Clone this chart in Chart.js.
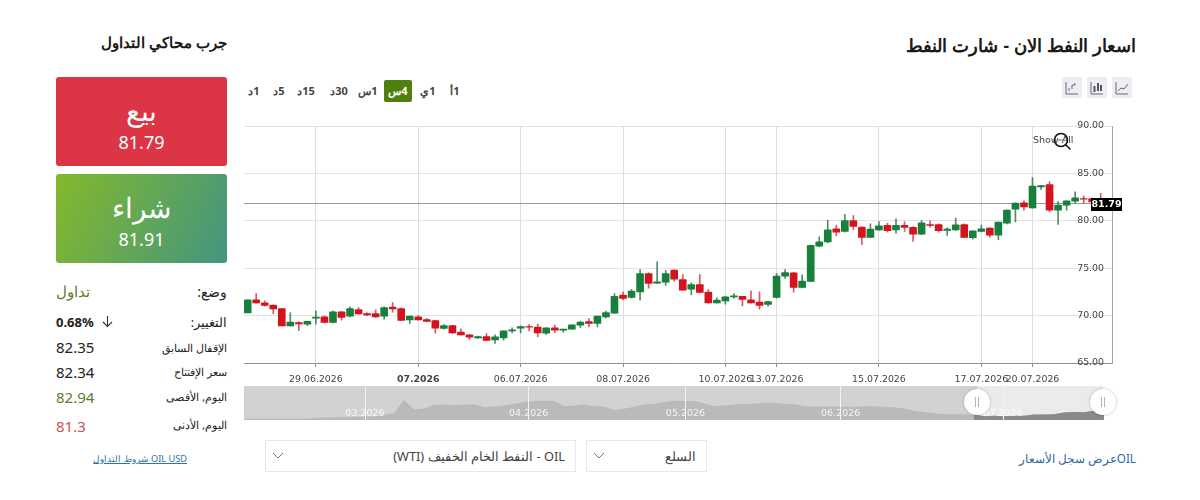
<!DOCTYPE html>
<html lang="ar">
<head>
<meta charset="utf-8">
<title>اسعار النفط الان</title>
<script src="https://cdn.jsdelivr.net/npm/chart.js@4"></script>
<style>
html,body{margin:0;padding:0;background:#fff;width:1200px;height:500px;overflow:hidden;font-family:"Noto Sans",sans-serif;color:#222}
.abs{position:absolute;white-space:nowrap}
.r{direction:rtl;text-align:right}
canvas{position:absolute}
.title{font:bold 17.900px "Liberation Sans",Arial,sans-serif;color:#1a1a1a}
.box{position:absolute;left:56px;width:171px;height:89px;border-radius:3px;color:#fff;text-align:center}
.box b{position:absolute;left:0;right:0;font-weight:400;font-size:28px;line-height:36px}
.box span{position:absolute;left:0;right:0;font-size:18px;line-height:24px}
.lbl{right:973px;font-size:10.500px;color:#222;direction:rtl}
.num{left:56px;font-size:15px;color:#222}
.period{font:bold 11px "Noto Sans",sans-serif;color:#444;direction:rtl;text-align:center;line-height:22px;top:80px;height:22px}
.tool{position:absolute;top:77px;width:20px;height:21px;background:#eceef2}
.select{position:absolute;top:440px;height:30px;border:1px solid #e8e8e8;box-sizing:content-box}
.select span{position:absolute;right:10px;top:0;line-height:30px;font-size:12.800px;color:#444;direction:rtl;white-space:nowrap}
.select svg{position:absolute;left:6px;top:11px}
</style>
</head>
<body>

<div class="abs title r" style="right:64px;top:35px">اسعار النفط الان - شارت النفط</div>
<div class="abs title r" style="right:973px;top:34px;font-size:15px">جرب محاكي التداول</div>

<div class="box" style="top:77px;background:#dc3545">
  <b style="top:15px">بيع</b><span style="top:53px">81.79</span>
</div>
<div class="box" style="top:174px;background:linear-gradient(115deg,#84b92b,#439580)">
  <b style="top:15px">شراء</b><span style="top:53px">81.91</span>
</div>

<div class="abs lbl" style="top:282px;font-size:14px">وضع:</div>
<div class="abs" style="left:56px;top:281px;font-size:15px;color:#5f7d2d;direction:rtl">تداول</div>
<div class="abs lbl" style="top:314px;font-size:12.500px">التغيير:</div>
<div class="abs" style="left:56px;top:313px;font-size:13px;font-weight:bold;color:#222">0.68%</div>
<svg class="abs" style="left:101px;top:315px" width="13" height="13" viewBox="0 0 13 13"><path d="M6.5 1v10M2 7l4.500 4.500L11 7" fill="none" stroke="#333" stroke-width="1.100"/></svg>
<div class="abs lbl" style="top:341px">الإقفال السابق</div>
<div class="abs num" style="top:337px">82.35</div>
<div class="abs lbl" style="top:365px">سعر الإفتتاح</div>
<div class="abs num" style="top:362px">82.34</div>
<div class="abs lbl" style="top:390px">اليوم, الأقصى</div>
<div class="abs num" style="top:387px;color:#5f7d2d">82.94</div>
<div class="abs lbl" style="top:418px">اليوم, الأدنى</div>
<div class="abs num" style="top:416px;color:#c9535c">81.3</div>
<div class="abs r" style="right:1013px;top:452px;font-size:9.200px;color:#2f72ab;text-decoration:underline">OIL USD شروط التداول</div>

<div class="abs period" style="left:246px;width:16px">1د</div>
<div class="abs period" style="left:271px;width:16px">5د</div>
<div class="abs period" style="left:297px;width:18px">15د</div>
<div class="abs period" style="left:329px;width:20px">30د</div>
<div class="abs period" style="left:358px;width:20px">1س</div>
<div class="abs period" style="left:384px;width:28px;background:#4f7f0e;color:#fff;border-radius:2px">4س</div>
<div class="abs period" style="left:420px;width:16px">1ي</div>
<div class="abs period" style="left:449px;width:12px">1أ</div>

<div class="tool" style="left:1062px"><svg width="20" height="21" viewBox="0 0 20 21"><path d="M4 5v12h12" fill="none" stroke="#667" stroke-width="1"/><path d="M7 14v-3M10 12V8M10 8h3M13 8V6" fill="none" stroke="#667" stroke-width="1"/></svg></div>
<div class="tool" style="left:1087px"><svg width="20" height="21" viewBox="0 0 20 21"><path d="M4 5v12h12" fill="none" stroke="#667" stroke-width="1"/><path d="M7.500 9v6M11 6v8M14 8v6" fill="none" stroke="#556" stroke-width="2"/></svg></div>
<div class="tool" style="left:1112px"><svg width="20" height="21" viewBox="0 0 20 21"><path d="M4 5v12h12" fill="none" stroke="#667" stroke-width="1"/><path d="M6 14l3-3 3 1 4-5" fill="none" stroke="#667" stroke-width="1"/></svg></div>

<canvas id="priceChart" width="900" height="280" style="left:236px;top:116px"></canvas>
<canvas id="navChart" width="900" height="46" style="left:236px;top:380px"></canvas>

<div class="abs" style="left:1033px;top:134px;font:9.500px 'DejaVu Sans',sans-serif;color:#444">Show All</div>
<svg class="abs" style="left:1052px;top:131px" width="20" height="20" viewBox="0 0 20 20"><circle cx="9" cy="9" r="6.500" fill="none" stroke="#111" stroke-width="1.500"/><path d="M13.500 13.500l5 5" stroke="#111" stroke-width="1.500"/><path d="M5 9h8" stroke="#777" stroke-width="1"/></svg>

<div class="select" style="left:265px;width:309px"><span>OIL - النفط الخام الخفيف (WTI)</span><svg width="12" height="8" viewBox="0 0 12 8"><path d="M1 1l5 5 5-5" fill="none" stroke="#777"/></svg></div>
<div class="select" style="left:586px;width:119px"><span>السلع</span><svg width="12" height="8" viewBox="0 0 12 8"><path d="M1 1l5 5 5-5" fill="none" stroke="#777"/></svg></div>
<div class="abs r" style="right:64px;top:450px;font-size:11.700px;color:#2f6a9e">OILعرض سجل الأسعار</div>

<script>
// 4h candles, oldest first
const opens = [70.29,71.66,71.35,71.10,70.75,68.92,69.27,69.10,69.72,69.87,69.27,70.40,69.94,70.64,70.22,70.22,69.94,70.89,70.75,69.55,
  69.87,69.59,69.48,68.64,68.95,68.25,67.97,67.65,67.80,67.44,67.65,68.39,68.67,68.83,68.78,68.15,68.71,68.46,68.57,68.99,
  69.38,69.17,69.87,70.26,72.16,71.91,72.51,74.44,73.42,73.53,74.79,73.81,72.79,73.28,72.47,71.35,71.56,71.98,72.02,71.66,
  71.42,71.17,71.91,74.16,74.51,72.97,73.60,77.33,77.78,79.16,78.88,80.03,79.33,78.25,79.05,79.51,79.05,79.51,79.30,78.60,
  79.60,79.61,78.98,79.05,79.61,78.21,78.88,79.23,78.49,79.75,81.23,81.89,81.37,83.58,83.82,81.12,81.65,82.07,82.35,82.35,82.00];
const highs = [71.66,72.33,71.56,71.10,70.75,70.30,69.34,69.42,70.50,69.95,70.50,70.43,70.93,70.85,70.30,70.60,70.93,71.38,70.82,69.94,
  70.00,69.70,69.52,69.06,68.95,68.60,68.00,67.83,68.11,67.97,68.39,68.71,68.92,69.06,69.10,68.71,69.00,68.57,69.03,69.41,
  69.69,69.94,70.47,72.33,72.47,72.75,74.86,74.51,75.67,74.76,74.83,74.34,73.46,74.34,72.75,71.87,72.02,72.33,72.05,72.61,
  72.51,71.49,74.44,74.86,74.55,74.30,77.43,78.31,80.07,79.54,80.67,80.56,79.33,79.68,79.93,79.75,80.21,79.89,79.40,80.03,
  80.00,79.68,79.26,80.28,79.68,78.95,79.54,79.26,79.86,81.16,81.89,82.11,84.56,83.75,84.14,82.04,82.11,83.05,82.63,82.40,82.90];
const lows = [70.29,71.30,71.00,70.20,68.90,68.90,68.40,68.95,69.10,69.24,69.24,69.52,69.87,70.15,70.00,69.80,69.62,70.36,69.45,69.17,
  69.52,69.34,68.15,68.57,68.08,67.94,67.48,67.58,67.34,67.06,67.41,68.18,68.18,68.39,67.76,68.00,68.22,68.25,68.53,68.74,
  68.81,68.81,69.73,70.22,71.66,71.84,71.63,72.89,73.39,73.18,73.63,72.65,72.19,72.40,71.31,71.31,71.21,71.80,71.03,71.31,
  70.68,71.00,71.84,73.91,72.47,72.93,73.56,77.26,77.68,78.42,78.81,79.05,77.47,78.21,78.98,78.81,78.70,78.88,77.82,78.53,
  79.33,78.81,78.46,78.98,78.21,78.07,78.84,78.28,78.00,79.68,79.89,81.12,81.33,83.30,80.95,79.61,81.12,81.86,81.86,81.90,81.60];
const closes = [71.66,71.35,71.07,70.70,68.92,69.31,69.13,69.40,69.85,69.27,70.40,69.80,70.75,70.19,70.08,69.87,70.85,70.71,69.48,69.94,
  69.55,69.38,68.67,68.95,68.18,67.97,67.72,67.80,67.37,67.76,68.39,68.50,68.85,68.78,68.18,68.71,68.46,68.57,69.03,69.31,
  69.17,69.94,70.33,72.02,71.80,72.58,74.44,73.39,73.56,74.44,73.84,72.68,73.28,72.44,71.35,71.63,71.98,72.09,71.70,71.35,
  71.07,71.49,74.16,74.55,72.97,73.63,77.40,77.78,79.05,78.80,80.03,79.40,78.25,79.12,79.47,78.95,79.51,79.30,78.60,79.79,
  79.50,78.95,79.12,79.58,78.25,78.95,79.16,78.49,79.86,81.12,81.86,81.47,83.65,83.72,81.12,81.65,82.11,82.42,82.28,82.00,81.79];

const lastPrice = 81.79;
const priceTicks = [65, 70, 75, 80, 85, 90];
const dateTickIndex = [8, 20, 32, 44, 56, 62, 74, 86, 92];
const dateTickLabels = ['29.06.2026', '07.2026', '06.07.2026', '08.07.2026', '10.07.2026', '13.07.2026', '15.07.2026', '17.07.2026', '20.07.2026'];
const boldDateTick = 20;

// long range series under the price chart, one sample per slot
const navValues = [61,61,61,61,61,61,61,63,65,65,66,67,68,69,73,78,119,90,93,104,105,103,105,106,97,99,102,107,113,
  116,117,117,100,102,105,101,99,88,92,98,105,108,112,117,116,116,109,100,102,105,107,108,111,111,108,107,101,99,98,
  99,98,98,100,100,98,97,93,86,82,78,76,75,75,74,69,70,69,70,70,74,74,75,80,82,81,86,81];
const navMonthIndex = [12.1, 28.47, 44.15, 59.67, 75.9];
const navMonthLabels = ['03.2026', '04.2026', '05.2026', '06.2026', '07.2026'];
const navSelStart = 73.3;
const navSelEnd = 85.9;

const UP = '#17803d', DOWN = '#d2141f';
const indexes = opens.map((_, i) => i);
const candleColors = indexes.map(i => closes[i] >= opens[i] ? UP : DOWN);
const wickColors = indexes.map(i => closes[i] >= opens[i] ? 'rgba(40,110,70,.8)' : 'rgba(205,50,60,.8)');

// current price line and its tag on the axis
const lastPricePlugin = {
  id: 'lastPrice',
  beforeDatasetsDraw(chart) {
    const y = Math.round(chart.scales.y.getPixelForValue(lastPrice)) - 0.5;
    const {ctx, chartArea} = chart;
    ctx.save();
    ctx.strokeStyle = '#9a9a9a';
    ctx.beginPath();
    ctx.moveTo(chartArea.left, y);
    ctx.lineTo(chartArea.right, y);
    ctx.stroke();
    ctx.restore();
  },
  afterDatasetsDraw(chart) {
    const y = chart.scales.y.getPixelForValue(lastPrice);
    const {ctx, chartArea} = chart;
    ctx.save();
    ctx.fillStyle = '#000';
    ctx.fillRect(chartArea.right - 21, Math.round(y) - 6, 31, 13);
    ctx.fillStyle = '#fff';
    ctx.font = 'bold 9.5px "DejaVu Sans", sans-serif';
    ctx.textAlign = 'center';
    ctx.textBaseline = 'middle';
    ctx.fillText(lastPrice.toFixed(2), chartArea.right - 5.5, Math.round(y) + 0.5);
    ctx.restore();
  }
};

new Chart(document.getElementById('priceChart'), {
  type: 'bar',
  data: {
    datasets: [
      {
        data: indexes.map(i => ({x: i, y: [opens[i], closes[i]]})),
        backgroundColor: candleColors,
        barThickness: 7,
        borderRadius: 1,
        order: 1
      },
      {
        data: indexes.map(i => ({x: i, y: [lows[i], highs[i]]})),
        backgroundColor: wickColors,
        barThickness: 1,
        order: 2
      }
    ]
  },
  options: {
    responsive: false,
    animation: false,
    devicePixelRatio: 1,
    layout: {padding: {left: 8, right: 24, top: 10, bottom: 0}},
    plugins: {legend: {display: false}, tooltip: {enabled: false}},
    datasets: {bar: {grouped: false}},
    scales: {
      x: {
        type: 'linear',
        offset: false,
        min: -0.43,
        max: 101.32,
        border: {color: '#8f8f8f'},
        grid: {offset: false, color: '#dedede', tickLength: 4, tickColor: '#8f8f8f'},
        afterBuildTicks: s => { s.ticks = dateTickIndex.map(v => ({value: v})); },
        afterFit: s => { s.height = 33; },
        ticks: {
          autoSkip: false,
          maxRotation: 0,
          padding: 7,
          color: '#444',
          font: c => ({family: '"DejaVu Sans", sans-serif', size: 9.4, weight: c.tick && c.tick.value === boldDateTick ? 'bold' : 'normal'}),
          callback: v => dateTickLabels[dateTickIndex.indexOf(v)]
        }
      },
      y: {
        position: 'right',
        min: 65,
        max: 90,
        border: {color: '#a5a5a5'},
        grid: {color: '#e2e2e2', drawTicks: false},
        afterBuildTicks: s => { s.ticks = priceTicks.map(v => ({value: v})); },
        afterFit: s => { s.width = 0; },
        ticks: {
          mirror: true,
          padding: -8,
          z: 1,
          color: '#444',
          font: {family: '"DejaVu Sans", sans-serif', size: 9.4},
          callback: v => v.toFixed(2)
        }
      }
    }
  },
  plugins: [lastPricePlugin]
});

// range selector backgrounds and drag handles
const navPlugin = {
  id: 'navRange',
  beforeDraw(chart) {
    const {ctx, chartArea, scales} = chart;
    const a = scales.x.getPixelForValue(navSelStart);
    const b = scales.x.getPixelForValue(navSelEnd);
    ctx.save();
    ctx.fillStyle = '#d2d2d2';
    ctx.fillRect(chartArea.left, chartArea.top, a - chartArea.left, chartArea.height);
    ctx.fillStyle = '#ebebeb';
    ctx.fillRect(a, chartArea.top, b - a, chartArea.height);
    ctx.restore();
  },
  afterDraw(chart) {
    const {ctx, chartArea, scales} = chart;
    const cy = chartArea.top + 16;
    [navSelStart, navSelEnd].forEach(v => {
      const cx = scales.x.getPixelForValue(v);
      ctx.save();
      ctx.shadowColor = 'rgba(0,0,0,.25)';
      ctx.shadowBlur = 3;
      ctx.fillStyle = '#fff';
      ctx.beginPath();
      ctx.arc(cx, cy, 13, 0, Math.PI * 2);
      ctx.fill();
      ctx.restore();
      ctx.fillStyle = '#b5b5b5';
      ctx.fillRect(cx - 2, cy - 5, 1, 10);
      ctx.fillRect(cx + 1, cy - 5, 1, 10);
    });
  }
};

new Chart(document.getElementById('navChart'), {
  type: 'line',
  data: {
    datasets: [
      {
        data: navValues.map((v, i) => ({x: i, y: v})),
        borderWidth: 0,
        pointRadius: 0,
        backgroundColor: '#bababa',
        fill: 'start',
        order: 2
      },
      {
        data: navValues.map((v, i) => ({x: i, y: v})).filter(p => p.x >= 73),
        borderWidth: 0,
        pointRadius: 0,
        backgroundColor: '#8a8a8a',
        fill: 'start',
        order: 1
      }
    ]
  },
  options: {
    responsive: false,
    animation: false,
    devicePixelRatio: 1,
    layout: {padding: {left: 8, right: 32, top: 6, bottom: 6}},
    plugins: {legend: {display: false}, tooltip: {enabled: false}},
    scales: {
      x: {
        type: 'linear',
        min: 0,
        max: 86,
        border: {display: false},
        grid: {color: '#f4f4f4', z: 1, drawTicks: false},
        afterBuildTicks: s => { s.ticks = navMonthIndex.map(v => ({value: v})); },
        afterFit: s => { s.height = 0; },
        ticks: {
          autoSkip: false,
          maxRotation: 0,
          mirror: true,
          z: 1,
          padding: 1,
          color: 'rgba(255,255,255,.85)',
          font: {family: '"DejaVu Sans", sans-serif', size: 9.5},
          callback: v => navMonthLabels[navMonthIndex.indexOf(v)]
        }
      },
      y: {display: false, min: 57, max: 163}
    }
  },
  plugins: [navPlugin]
});
</script>
</body>
</html>
